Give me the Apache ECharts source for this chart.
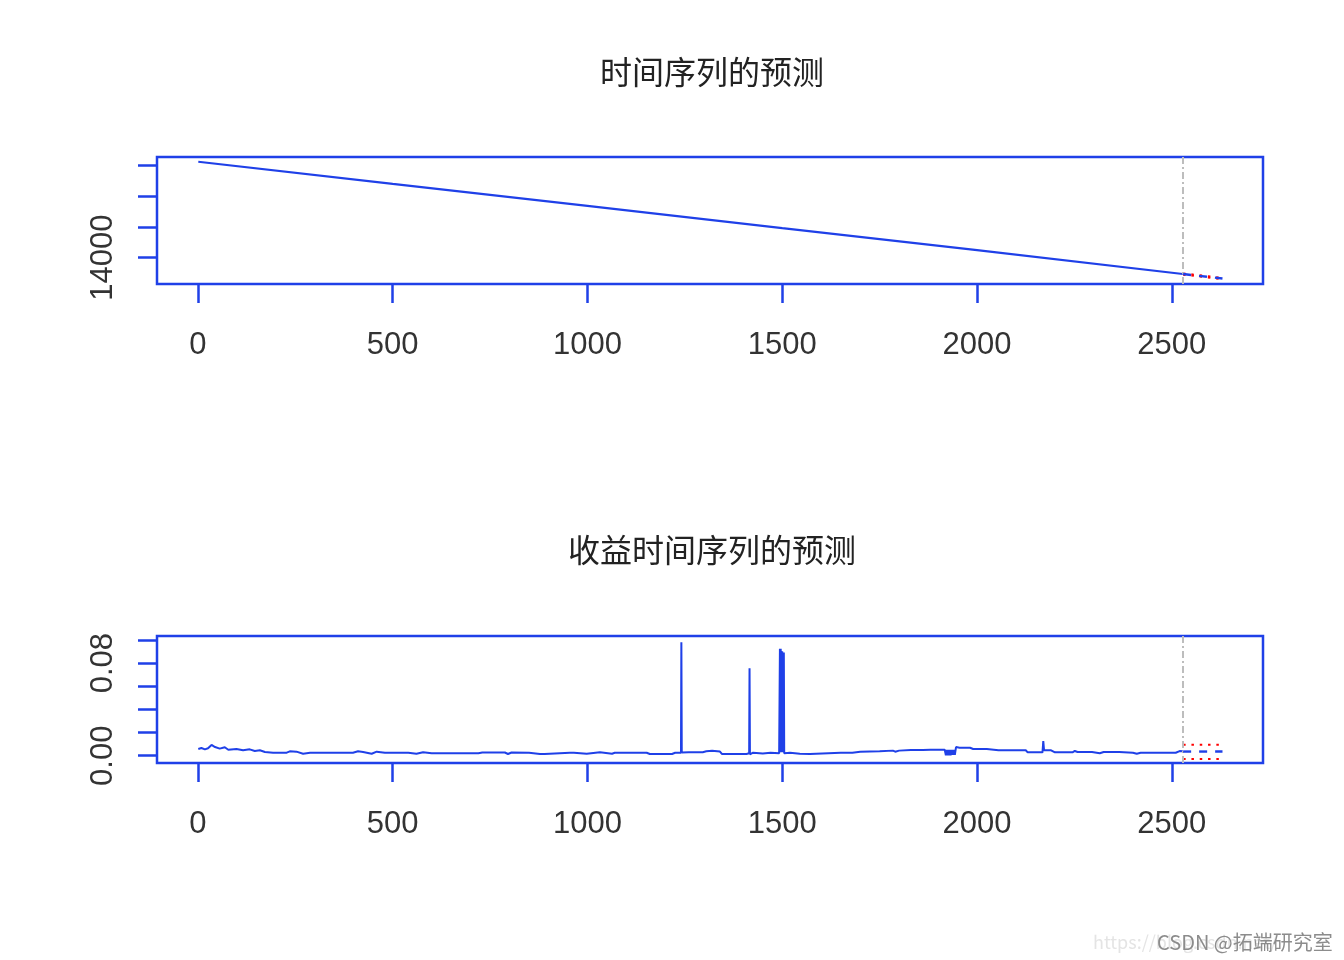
<!DOCTYPE html>
<html>
<head>
<meta charset="utf-8">
<script src="https://cdn.jsdelivr.net/npm/echarts@6/dist/echarts.min.js"></script>
<style>
html,body{margin:0;padding:0;background:#fff;}
#chart{width:1344px;height:960px;}
</style>
</head>
<body>
<div id="chart"></div>
<script>
// ---- data ----
const titleTop = '时间序列的预测';
const titleBottom = '收益时间序列的预测';
const xTickValues = [0, 500, 1000, 1500, 2000, 2500];
const topYTicks = [14000, 15000, 16000, 17000];
const topYLabels = [14000];
const bottomYTicks = [0, 0.02, 0.04, 0.06, 0.08, 0.10];
const bottomYLabels = [0, 0.08];
const forecastStart = 2528.5;

// price-like series (index, value)
const topSeries = [[1,17130],[500,16405],[1000,15690],[1500,14965],[2000,14245],[2528,13469]];
const topForecast = [[2529,13467],[2630,13321]];
const topUpper = [[2529,13487],[2630,13341]];
const topLower = [[2529,13447],[2630,13301]];

// returns series (index, value)
const retSeries = [
[1,0.0058],[9,0.0067],[18,0.0055],[26,0.0064],[35,0.0093],[44,0.0075],[56,0.0061],[69,0.0073],
[78,0.0052],[99,0.0058],[116,0.0047],[133,0.0055],[146,0.0041],[159,0.0047],[172,0.0032],[193,0.0026],
[228,0.0026],[236,0.0038],[253,0.0035],[270,0.0017],[288,0.0026],[398,0.0026],[411,0.0038],[424,0.0032],
[446,0.0017],[459,0.0035],[480,0.0026],[540,0.0026],[561,0.0017],[578,0.0030],[600,0.0021],[720,0.0021],
[730,0.0028],[788,0.0028],[796,0.0015],[805,0.0028],[850,0.0026],[878,0.0015],[890,0.0015],[895,0.0026],
[955,0.0026],[959,0.0015],[965,0.0026],[998,0.0017],[1032,0.0030],[1063,0.0017],[1070,0.0026],[1152,0.0026],
[1160,0.0015],[1217,0.0015],[1225,0.0026],[1240,0.0026],[1241,0.0982],[1242,0.0028],[1260,0.0030],[1296,0.0030],
[1305,0.0038],[1320,0.0042],[1340,0.0036],[1345,0.0015],[1408,0.0015],[1415,0.0022],[1416,0.0757],[1417,0.0012],
[1425,0.0026],[1450,0.0020],[1470,0.0026],[1492,0.0022],[1493,0.0022],[1494,0.0924],[1495,0.0030],[1496,0.0924],
[1497,0.0030],[1498,0.0905],[1499,0.0030],[1500,0.0900],[1501,0.0030],[1502,0.0892],[1503,0.0030],[1504,0.0892],
[1505,0.0022],[1520,0.0026],[1545,0.0017],[1571,0.0015],[1575,0.0026],[1650,0.0026],[1655,0.0038],[1660,0.0026],
[1680,0.0026],[1700,0.0035],[1750,0.0038],[1784,0.0044],[1790,0.0035],[1800,0.0044],[1830,0.0049],[1861,0.0049],
[1866,0.0064],[1880,0.0052],[1917,0.0052],[1920,0.0003],[1922,0.0050],[1924,0.0003],[1926,0.0050],[1928,0.0003],
[1930,0.0050],[1932,0.0003],[1934,0.0050],[1936,0.0008],[1938,0.0050],[1940,0.0008],[1942,0.0050],[1943,0.0008],
[1946,0.0075],[1955,0.0069],[1968,0.0069],[1973,0.0052],[1982,0.0069],[1990,0.0058],[2025,0.0058],[2030,0.0047],
[2055,0.0047],[2059,0.0035],[2066,0.0047],[2125,0.0047],[2130,0.0029],[2168,0.0029],[2170,0.0127],[2172,0.0047],
[2190,0.0047],[2200,0.0029],[2245,0.0029],[2251,0.0041],[2258,0.0032],[2295,0.0032],[2300,0.0021],[2315,0.0021],
[2325,0.0032],[2365,0.0032],[2370,0.0026],[2400,0.0026],[2410,0.0017],[2420,0.0026],[2510,0.0026],[2514,0.0043],
[2520,0.0040],[2528,0.0038]
];
const retForecast = [[2529,0.0036],[2630,0.0036]];
const retUpper = [[2529,0.0095],[2630,0.0095]];
const retLower = [[2529,-0.0029],[2630,-0.0029]];

// ---- chart ----
const BLUE = '#1f40e8';
const RED = '#ff0000';
const LABEL_FONT = 'Liberation Sans, Arial, sans-serif';

function xAxisCfg(gridIndex){
  return {
    gridIndex, type:'value', min:-105, max:2734,
    splitLine:{show:false},
    axisLine:{show:false, onZero:false},
    axisTick:{show:true, inside:false, length:19, lineStyle:{color:BLUE,width:2.5}, customValues:xTickValues},
    axisLabel:{show:true, margin:46, fontSize:31, fontFamily:LABEL_FONT, color:'#333', customValues:xTickValues,
      formatter:v=>String(v)}
  };
}
function yAxisCfg(gridIndex, min, max, ticks, labels, fmt){
  return {
    gridIndex, type:'value', min, max, scale:true,
    splitLine:{show:false},
    axisLine:{show:false, onZero:false},
    axisTick:{show:true, inside:false, length:19, lineStyle:{color:BLUE,width:2.5}, customValues:ticks},
    axisLabel:{show:true, rotate:90, margin:38, fontSize:31, fontFamily:LABEL_FONT, color:'#333', customValues:labels,
      formatter:fmt}
  };
}
function vline(){
  return {
    silent:true, symbol:['none','none'], label:{show:false},
    lineStyle:{color:'#bdbdbd', width:2, type:[7,3,2,3]},
    data:[{xAxis:forecastStart}]
  };
}

const chart = echarts.init(document.getElementById('chart'), null, {renderer:'canvas'});
chart.setOption({
  animation:false,
  backgroundColor:'#ffffff',
  grid:[
    {left:157, top:157, width:1106, height:127, show:true, borderColor:BLUE, borderWidth:2.5, backgroundColor:'transparent'},
    {left:157, top:636, width:1106, height:127, show:true, borderColor:BLUE, borderWidth:2.5, backgroundColor:'transparent'}
  ],
  xAxis:[xAxisCfg(0), xAxisCfg(1)],
  yAxis:[
    yAxisCfg(0, 13142, 17284, topYTicks, topYLabels, v=>String(v)),
    yAxisCfg(1, -0.0063, 0.1035, bottomYTicks, bottomYLabels, v=>v.toFixed(2))
  ],
  graphic:[
    {type:'text', x:712, y:72, style:{text:titleTop, fontSize:32, fontFamily:'Noto Sans CJK SC', fill:'#222', textAlign:'center', textVerticalAlign:'middle'}},
    {type:'text', x:712, y:550, style:{text:titleBottom, fontSize:32, fontFamily:'Noto Sans CJK SC', fill:'#222', textAlign:'center', textVerticalAlign:'middle'}},
    {type:'text', x:1093, y:942, style:{text:'https://blog.csdn.net/', fontSize:18, fontFamily:'Noto Sans CJK SC', fill:'#e4e4e4', textAlign:'left', textVerticalAlign:'middle'}},
    {type:'text', x:1157, y:942, style:{text:'CSDN @拓端研究室', fontSize:20, fontFamily:'Noto Sans CJK SC', fill:'#8c8c8c', textAlign:'left', textVerticalAlign:'middle'}}
  ],
  series:[
    {type:'line', xAxisIndex:0, yAxisIndex:0, data:topSeries, showSymbol:false, lineStyle:{color:BLUE,width:2.2}, markLine:vline(), z:3},
    {type:'line', xAxisIndex:0, yAxisIndex:0, data:topUpper, showSymbol:false, lineStyle:{color:RED,width:2,type:[2.5,5.8]}, z:4},
    {type:'line', xAxisIndex:0, yAxisIndex:0, data:topLower, showSymbol:false, lineStyle:{color:RED,width:2,type:[2.5,5.8]}, z:4},
    {type:'line', xAxisIndex:0, yAxisIndex:0, data:topForecast, showSymbol:false, lineStyle:{color:BLUE,width:2.4,type:[8,8]}, z:5},
    {type:'line', xAxisIndex:1, yAxisIndex:1, data:retSeries, showSymbol:false, lineStyle:{color:BLUE,width:2}, markLine:vline(), z:3},
    {type:'line', xAxisIndex:1, yAxisIndex:1, data:retUpper, showSymbol:false, lineStyle:{color:RED,width:2,type:[2.5,5.8]}, z:4},
    {type:'line', xAxisIndex:1, yAxisIndex:1, data:retLower, showSymbol:false, lineStyle:{color:RED,width:2,type:[2.5,5.8]}, z:4},
    {type:'line', xAxisIndex:1, yAxisIndex:1, data:retForecast, showSymbol:false, lineStyle:{color:BLUE,width:2.4,type:[8,8]}, z:5}
  ]
});
</script>
</body>
</html>
